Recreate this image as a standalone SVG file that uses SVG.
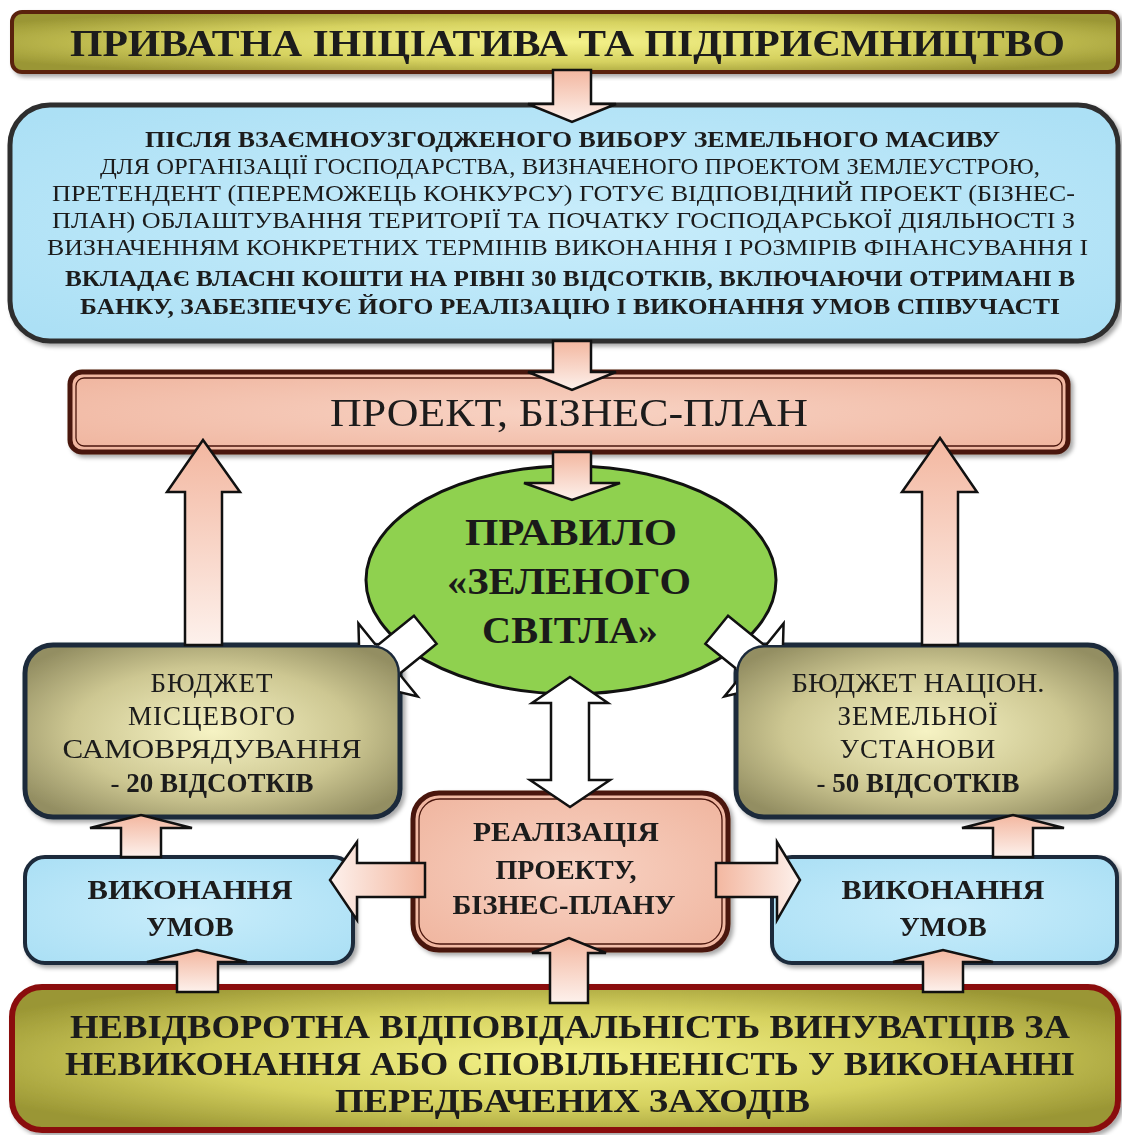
<svg xmlns="http://www.w3.org/2000/svg" width="1122" height="1135" viewBox="0 0 1122 1135">
<defs>
<radialGradient id="gOlive" cx="50%" cy="50%" r="60%">
<stop offset="0" stop-color="#f4f28a"/>
<stop offset="0.55" stop-color="#d6d260"/>
<stop offset="1" stop-color="#9a9634"/>
</radialGradient>
<radialGradient id="gBudget" cx="50%" cy="50%" r="62%">
<stop offset="0" stop-color="#f6f3c4"/>
<stop offset="0.6" stop-color="#cdc792"/>
<stop offset="1" stop-color="#938e62"/>
</radialGradient>
<radialGradient id="gBlue" cx="50%" cy="50%" r="65%">
<stop offset="0" stop-color="#c9edfb"/>
<stop offset="1" stop-color="#ace0f5"/>
</radialGradient>
<radialGradient id="gPink" cx="50%" cy="50%" r="65%">
<stop offset="0" stop-color="#f8d3c4"/>
<stop offset="1" stop-color="#f0b6a0"/>
</radialGradient>
<linearGradient id="gArrV" x1="0" y1="0" x2="0" y2="1">
<stop offset="0" stop-color="#f3b7a0"/>
<stop offset="1" stop-color="#fdf1ec"/>
</linearGradient>
<linearGradient id="gArrH" x1="0" y1="0" x2="1" y2="0">
<stop offset="0" stop-color="#f3b7a0"/>
<stop offset="1" stop-color="#fdf1ec"/>
</linearGradient>
<linearGradient id="gArrHR" x1="1" y1="0" x2="0" y2="0">
<stop offset="0" stop-color="#f3b7a0"/>
<stop offset="1" stop-color="#fdf1ec"/>
</linearGradient>
<filter id="sh" x="-5%" y="-10%" width="110%" height="125%">
<feDropShadow dx="3" dy="3" stdDeviation="2" flood-color="#000" flood-opacity="0.35"/>
</filter>
<clipPath id="clipBudget" clip-rule="evenodd">
<path clip-rule="evenodd" d="M0,0 H1122 V1135 H0 Z M53,645 H372 A28,28 0 0 1 400,673 V789 A28,28 0 0 1 372,817 H53 A28,28 0 0 1 25,789 V673 A28,28 0 0 1 53,645 Z M764,645 H1088 A28,28 0 0 1 1116,673 V789 A28,28 0 0 1 1088,817 H764 A28,28 0 0 1 736,789 V673 A28,28 0 0 1 764,645 Z"/>
</clipPath>
<path id="diag" d="M-48,-18 L0,-18 L0,-47 L36,0 L0,47 L0,18 L-48,18 Z"/>
</defs>
<style>
text { font-family: "Liberation Serif", "Times New Roman", serif; fill: #1a1a1a; }
.b { font-weight: bold; }
.c { text-anchor: middle; }
.arr { fill: url(#gArrV); stroke: #111; stroke-width: 2.5; stroke-linejoin: miter; }
.arrH { fill: url(#gArrH); stroke: #111; stroke-width: 2.5; }
.arrHR { fill: url(#gArrHR); stroke: #111; stroke-width: 2.5; }
.wht { fill: #ffffff; stroke: #111; stroke-width: 2.5; }
.olive { fill: url(#gOlive); }
.budget { fill: url(#gBudget); stroke: #1b2a3a; stroke-width: 5; }
.blue { fill: url(#gBlue); stroke: #1b2a3a; stroke-width: 4; }
.pink { fill: url(#gPink); stroke: #4a160c; stroke-width: 5; }
.pinkIn { fill: none; stroke: #4a160c; stroke-width: 1.3; }
</style>
<rect width="1122" height="1135" fill="#ffffff"/>

<g id="node-top" filter="url(#sh)">
<rect x="12" y="12" width="1106" height="60" rx="10" class="olive" stroke="#5a2410" stroke-width="4"/>
<text x="70" y="56" font-size="38" class="b" textLength="995" lengthAdjust="spacingAndGlyphs">ПРИВАТНА ІНІЦІАТИВА ТА ПІДПРИЄМНИЦТВО</text>
</g>

<g id="node-main" filter="url(#sh)">
<rect x="10" y="105" width="1108" height="236" rx="40" fill="url(#gBlue)" stroke="#2e2e2e" stroke-width="5"/>
<text x="145" y="147" font-size="22.5" class="b" textLength="855" lengthAdjust="spacingAndGlyphs">ПІСЛЯ ВЗАЄМНОУЗГОДЖЕНОГО ВИБОРУ ЗЕМЕЛЬНОГО МАСИВУ</text>
<text x="100" y="174" font-size="22.5" textLength="940" lengthAdjust="spacingAndGlyphs">ДЛЯ ОРГАНІЗАЦІЇ ГОСПОДАРСТВА, ВИЗНАЧЕНОГО ПРОЕКТОМ ЗЕМЛЕУСТРОЮ,</text>
<text x="52" y="201" font-size="22.5" textLength="1023" lengthAdjust="spacingAndGlyphs">ПРЕТЕНДЕНТ (ПЕРЕМОЖЕЦЬ КОНКУРСУ) ГОТУЄ ВІДПОВІДНИЙ ПРОЕКТ (БІЗНЕС-</text>
<text x="52" y="228" font-size="22.5" textLength="1023" lengthAdjust="spacingAndGlyphs">ПЛАН) ОБЛАШТУВАННЯ ТЕРИТОРІЇ ТА ПОЧАТКУ ГОСПОДАРСЬКОЇ ДІЯЛЬНОСТІ З</text>
<text x="47" y="255" font-size="22.5" textLength="1041" lengthAdjust="spacingAndGlyphs">ВИЗНАЧЕННЯМ КОНКРЕТНИХ ТЕРМІНІВ ВИКОНАННЯ І РОЗМІРІВ ФІНАНСУВАННЯ І</text>
<text x="65" y="286" font-size="22.5" class="b" textLength="1010" lengthAdjust="spacingAndGlyphs">ВКЛАДАЄ ВЛАСНІ КОШТИ НА РІВНІ 30 ВІДСОТКІВ, ВКЛЮЧАЮЧИ ОТРИМАНІ В</text>
<text x="80" y="314" font-size="22.5" class="b" textLength="980" lengthAdjust="spacingAndGlyphs">БАНКУ, ЗАБЕЗПЕЧУЄ ЙОГО РЕАЛІЗАЦІЮ І ВИКОНАННЯ УМОВ СПІВУЧАСТІ</text>
</g>

<g id="node-project" filter="url(#sh)">
<rect x="70" y="372" width="998" height="80" rx="12" class="pink"/>
<rect x="76" y="378" width="986" height="68" rx="8" class="pinkIn"/>
<text x="330" y="426" font-size="39" textLength="478" lengthAdjust="spacingAndGlyphs">ПРОЕКТ, БІЗНЕС-ПЛАН</text>
</g>

<g id="node-green">
<ellipse cx="571" cy="580" rx="205" ry="114" fill="#8fd14f" stroke="#111" stroke-width="3"/>
<text x="571" y="545" font-size="38" class="b c" textLength="212" lengthAdjust="spacingAndGlyphs">ПРАВИЛО</text>
<text x="569" y="594" font-size="38" class="b c" textLength="244" lengthAdjust="spacingAndGlyphs">«ЗЕЛЕНОГО</text>
<text x="570" y="643" font-size="38" class="b c" textLength="176" lengthAdjust="spacingAndGlyphs">СВІТЛА»</text>
</g>

<g id="node-budget-local" filter="url(#sh)">
<rect x="25" y="645" width="375" height="172" rx="28" class="budget"/>
<text x="212" y="692" font-size="27" class="c" letter-spacing="1">БЮДЖЕТ</text>
<text x="212" y="725" font-size="27" class="c" letter-spacing="1">МІСЦЕВОГО</text>
<text x="212" y="758" font-size="27" class="c" textLength="299" lengthAdjust="spacingAndGlyphs">САМОВРЯДУВАННЯ</text>
<text x="212" y="792" font-size="27" class="c"><tspan>- </tspan><tspan class="b">20 ВІДСОТКІВ</tspan></text>
</g>

<g id="node-budget-national" filter="url(#sh)">
<rect x="736" y="645" width="380" height="172" rx="28" class="budget"/>
<text x="918" y="692" font-size="27" class="c" textLength="253" lengthAdjust="spacingAndGlyphs">БЮДЖЕТ НАЦІОН.</text>
<text x="918" y="725" font-size="27" class="c" letter-spacing="1">ЗЕМЕЛЬНОЇ</text>
<text x="918" y="758" font-size="27" class="c" letter-spacing="1">УСТАНОВИ</text>
<text x="918" y="792" font-size="27" class="c"><tspan>- </tspan><tspan class="b">50 ВІДСОТКІВ</tspan></text>
</g>

<g id="node-realization" filter="url(#sh)">
<rect x="413" y="793" width="315" height="157" rx="26" class="pink"/>
<rect x="419" y="799" width="303" height="145" rx="21" class="pinkIn"/>
<text x="566" y="841" font-size="28" class="b c" textLength="186" lengthAdjust="spacingAndGlyphs">РЕАЛІЗАЦІЯ</text>
<text x="566" y="879" font-size="28" class="b c">ПРОЕКТУ,</text>
<text x="564" y="914" font-size="28" class="b c" textLength="223" lengthAdjust="spacingAndGlyphs">БІЗНЕС-ПЛАНУ</text>
</g>

<g id="node-conditions-left" filter="url(#sh)">
<rect x="25" y="857" width="328" height="106" rx="20" class="blue"/>
<text x="190" y="899" font-size="28" class="b c" textLength="205" lengthAdjust="spacingAndGlyphs">ВИКОНАННЯ</text>
<text x="190" y="936" font-size="28" class="b c">УМОВ</text>
</g>

<g id="node-conditions-right" filter="url(#sh)">
<rect x="772" y="857" width="345" height="106" rx="20" class="blue"/>
<text x="943" y="899" font-size="28" class="b c" textLength="203" lengthAdjust="spacingAndGlyphs">ВИКОНАННЯ</text>
<text x="943" y="936" font-size="28" class="b c">УМОВ</text>
</g>

<g id="node-bottom" filter="url(#sh)">
<rect x="12" y="987" width="1106" height="143" rx="30" class="olive" stroke="#8a1010" stroke-width="6"/>
<text x="70" y="1038" font-size="34" class="b" textLength="1000" lengthAdjust="spacingAndGlyphs">НЕВІДВОРОТНА ВІДПОВІДАЛЬНІСТЬ ВИНУВАТЦІВ ЗА</text>
<text x="65" y="1075" font-size="34" class="b" textLength="1010" lengthAdjust="spacingAndGlyphs">НЕВИКОНАННЯ АБО СПОВІЛЬНЕНІСТЬ У ВИКОНАННІ</text>
<text x="335" y="1112" font-size="34" class="b" textLength="475" lengthAdjust="spacingAndGlyphs">ПЕРЕДБАЧЕНИХ ЗАХОДІВ</text>
</g>

<g id="connectors">
<path class="arr" d="M553,70 L591,70 L591,104 L616,104 L572,122 L528,104 L553,104 Z"/>
<path class="arr" d="M553,341 L591,341 L591,372 L616,372 L572,390 L528,372 L553,372 Z"/>
<path class="arr" d="M553,452 L591,452 L591,483 L620,483 L572,500 L524,483 L553,483 Z"/>
<path class="arr" d="M185,645 L185,492 L167,492 L203,440 L240,492 L222,492 L222,645 Z"/>
<path class="arr" d="M922,645 L922,492 L902,492 L940,438 L977,492 L958,492 L958,645 Z"/>
<g clip-path="url(#clipBudget)">
<use href="#diag" class="wht" transform="translate(388,660) rotate(141)"/>
<use href="#diag" class="wht" transform="translate(754,660) rotate(39)"/>
</g>
<path class="wht" d="M570,677 L608,703 L589,703 L589,780 L610,780 L570,807 L530,780 L551,780 L551,703 L532,703 Z"/>
<path class="arrHR" d="M425,863 L357,863 L357,842 L330,880 L357,920 L357,897 L425,897 Z"/>
<path class="arrH" d="M716,863 L777,863 L777,842 L800,880 L777,920 L777,897 L716,897 Z"/>
<path class="arr" d="M121,857 L121,828 L90,828 L141,815 L192,828 L161,828 L161,857 Z"/>
<path class="arr" d="M993,857 L993,828 L962,828 L1013,815 L1064,828 L1033,828 L1033,857 Z"/>
<path class="arr" d="M177,992 L177,962 L147,962 L197,950 L247,962 L218,962 L218,992 Z"/>
<path class="arr" d="M923,992 L923,962 L893,962 L943,950 L993,962 L963,962 L963,992 Z"/>
<path class="arr" d="M550,1003 L550,953 L532,953 L569,938 L606,953 L588,953 L588,1003 Z"/>
</g>
</svg>
